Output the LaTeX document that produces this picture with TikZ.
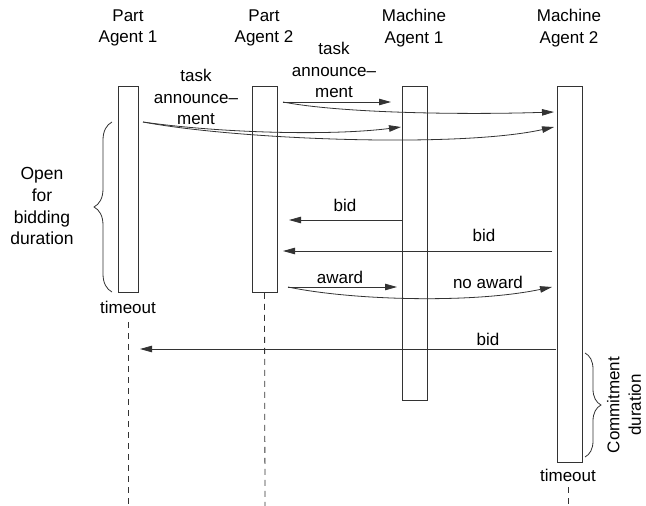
\documentclass[tikz,border=0pt]{standalone}
\usepackage{fontspec}
\setmainfont{Liberation Sans}
\usetikzlibrary{arrows.meta,decorations.pathreplacing,calc}
\begin{document}
\begin{tikzpicture}[x=1pt,y=-1pt,
  every node/.style={font=\fontsize{17}{21.5}\selectfont},
  line/.style={draw=black!80,line width=0.8pt},
  lifebox/.style={line,minimum height=#1,inner sep=0pt,anchor=north},
  msg/.style={line,-{Triangle[length=12pt,width=6.5pt]}},
  life/.style={line,dash pattern=on 6pt off 5pt},
  lbl/.style={align=center,inner sep=0pt},
  brc/.style={line,decorate,decoration={brace,amplitude=#1}}]
\useasboundingbox (0,0) rectangle (646,506);
% headers
\node[lbl] (h1) at (128,28) {Part\\Agent 1};
\node[lbl] (h2) at (264,28) {Part\\Agent 2};
\node[lbl] (h3) at (414,28) {Machine\\Agent 1};
\node[lbl] (h4) at (569,28) {Machine\\Agent 2};
% boxes
\node[lifebox=206pt,minimum width=20pt] (pa1) at (128,86) {};
\node[lifebox=206pt,minimum width=25pt] (pa2) at (264.5,86) {};
\node[lifebox=314pt,minimum width=25pt] (ma1) at (414.5,86) {};
\node[lifebox=376pt,minimum width=25pt] (ma2) at (569.5,86) {};
% timeouts
\node[lbl] (to1) at (128,307) {timeout};
\node[lbl] (to2) at (568,475) {timeout};
% lifelines
\coordinate (e1) at (128,506);
\coordinate (e2) at (265,506);
\coordinate (e4) at (568,506);
\draw[life] (to1.south |- 0,322) -- (e1);
\draw[life] (pa2.south) -- (e2);
\draw[life] (to2.south |- 0,487) -- (e4);
% task announcement from PA2
\coordinate (s2) at (283,102);
\coordinate (t21) at (391,102);
\coordinate (t22) at (554,112);
\draw[msg] (s2) -- (t21);
\draw[msg] (s2) .. controls (340,113) and (460,115) .. (t22);
\node[lbl] (l2) at (334,70) {task\\announce–\\ment};
% task announcement from PA1
\coordinate (s1) at (143,122);
\coordinate (t11) at (401,127);
\coordinate (t12) at (554,127);
\draw[msg] (s1) .. controls (220,133) and (330,136) .. (t11);
\draw[msg] (s1) .. controls (240,140) and (460,148) .. (t12);
\node[lbl] (l1) at (196,97) {task\\announce–\\ment};
% bids
\coordinate (b1s) at (402,220);
\coordinate (b1e) at (289,220);
\draw[msg] (b1s) -- (b1e);
\node[lbl] (lb1) at (345,205) {bid};
\coordinate (b2s) at (552,251);
\coordinate (b2e) at (283,251);
\draw[msg] (b2s) -- (b2e);
\node[lbl] (lb2) at (484,235) {bid};
% award
\coordinate (as) at (288,287);
\coordinate (ae) at (397,287);
\coordinate (ne) at (552,287);
\draw[msg] (as) -- (ae);
\node[lbl] (la) at (340,277) {award};
\draw[msg] (as) .. controls (350,300) and (470,304) .. (ne);
\node[lbl] (lna) at (488,282) {no award};
% late bid
\coordinate (b3s) at (556,349);
\coordinate (b3e) at (140,349);
\draw[msg] (b3s) -- (b3e);
\node[lbl] (lb3) at (488,339) {bid};
% braces
\coordinate (bl1) at (112,292);
\coordinate (bl2) at (112,122);
\draw[brc=18pt] (bl1) -- (bl2);
\node[lbl,text width=90pt,align=center] (open) at (42,206) {\fontsize{17.5}{22}\selectfont Open\\for\\bidding\\duration};
\coordinate (br1) at (585,353);
\coordinate (br2) at (585,457);
\draw[brc=16pt] (br1) -- (br2);
\node[lbl,rotate=90] (comm) at (624,405) {\fontsize{17}{20}\selectfont Commitment\\duration};
\end{tikzpicture}
\end{document}
